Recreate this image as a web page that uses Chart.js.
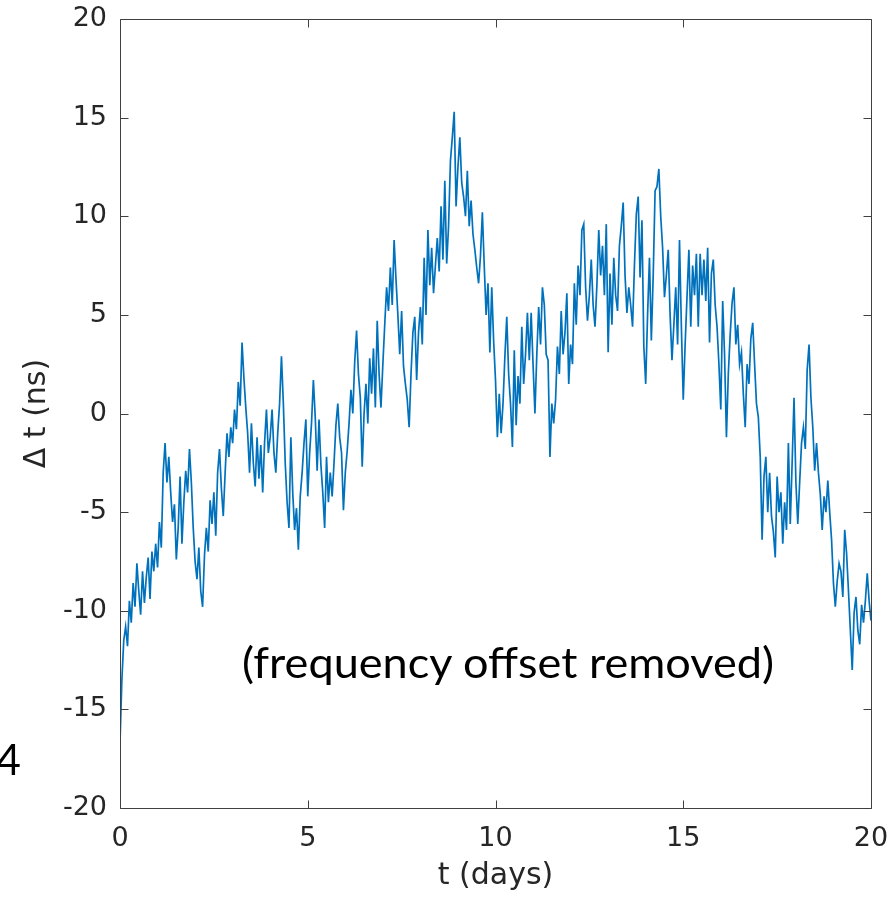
<!DOCTYPE html>
<html>
<head>
<meta charset="utf-8">
<script src="https://cdn.jsdelivr.net/npm/chart.js@4/dist/chart.umd.min.js"></script>
<style>
  html, body { margin: 0; padding: 0; background: #ffffff; }
  #wrap { position: relative; width: 891px; height: 897px; overflow: hidden; }
  #c { position: absolute; left: 0; top: 0; }
  .note { position: absolute; font-family: Lato, "Open Sans", sans-serif; color: #000; white-space: nowrap; line-height: 1; }
  #ann { left: 242px; top: 641px; font-size: 42px; transform-origin: 0 0; }
  #four { left: -4px; top: 737px; font-size: 43px; }
</style>
</head>
<body>
<div id="wrap">
  <canvas id="c" width="891" height="897"></canvas>
  <div class="note" id="ann">(frequency offset removed)</div>
  <div class="note" id="four">4</div>
</div>
<script>
// ---- data ----
const T_START = 0;        // days
const T_STEP = 0.05;      // sampling step of the readings (days)
const xTickValues = [0, 5, 10, 15, 20];
const yTickValues = [-20, -15, -10, -5, 0, 5, 10, 15, 20];
const xLabel = 't (days)';
const yLabel = '\u0394 t (ns)';
const noteText = '(frequency offset removed)';

// Δt (ns), one reading every 0.05 day from t = 0 to t = 20
const deltaT = [
  -16.7,-13.5,-11.5,-10.8,-11.8,-9.5,-10.6,-8.6,-9.8,-7.6,-9.0,-10.2,-8.0,-9.6,-8.3,-7.3,-9.4,-7.0,-8.0,-6.6,
  -7.8,-5.5,-6.8,-3.0,-1.5,-3.5,-2.2,-4.0,-5.5,-4.6,-7.4,-5.8,-3.2,-6.6,-4.5,-2.9,-4.0,-1.8,-3.5,-5.8,
  -7.5,-8.4,-6.8,-9.0,-9.8,-7.2,-5.8,-7.0,-4.4,-5.6,-4.0,-6.2,-3.0,-1.8,-3.8,-5.2,-3.0,-1.0,-2.2,-0.7,
  -1.5,0.2,-0.8,1.6,0.4,3.6,1.8,0.3,-1.0,-3.0,-0.5,-2.5,-3.7,-1.2,-3.3,-1.6,-4.0,-1.5,0.2,-2.0,
  -1.2,0.2,-2.0,-3.0,-1.0,0.5,2.9,0.5,-2.5,-4.5,-5.8,-1.2,-4.0,-5.9,-4.8,-6.9,-4.2,-3.0,-1.5,-0.3,
  -4.2,-2.0,-0.5,1.7,-0.2,-2.9,-0.3,-2.6,-4.0,-5.8,-2.2,-4.5,-3.0,-4.2,-2.5,-0.6,0.5,-1.2,-2.0,-4.9,
  -3.0,-1.9,-0.5,1.2,0.0,2.6,4.2,2.0,0.8,-2.7,0.0,1.5,-0.5,2.8,1.0,3.3,0.3,4.7,2.0,0.3,
  2.5,4.5,6.4,5.2,7.4,5.5,8.8,6.8,5.0,3.0,5.2,2.4,1.5,0.7,-0.7,2.0,4.1,4.9,1.7,4.1,
  5.4,3.5,7.9,5.0,9.3,6.5,8.4,6.1,7.5,8.9,7.2,10.5,7.8,11.8,7.6,9.5,12.8,14.0,15.3,10.5,
  12.5,14.0,11.7,11.0,10.0,12.3,9.5,10.8,9.1,8.3,7.4,6.6,8.0,10.2,7.5,5.0,6.6,3.1,6.4,3.7,
  1.7,-1.2,1.0,-1.0,0.5,2.9,4.9,2.0,0.5,-1.7,3.2,-0.6,1.9,0.5,4.4,1.5,3.0,5.1,2.7,5.1,
  2.5,0.0,3.0,5.4,3.5,6.4,5.5,3.0,2.7,-2.2,0.5,-0.5,0.7,3.4,2.0,5.2,3.0,4.1,6.1,1.5,
  3.5,2.5,6.6,4.5,7.5,6.0,9.3,9.6,6.4,4.7,6.0,7.8,5.5,4.4,6.5,9.3,7.0,8.5,6.0,9.6,
  3.1,7.1,4.5,7.9,6.0,5.2,8.5,9.5,10.7,7.0,5.1,6.4,5.5,4.4,7.5,10.1,11.0,6.9,9.8,3.4,
  1.5,5.0,7.9,3.7,7.0,11.3,11.5,12.4,10.0,8.4,5.9,7.0,8.3,5.0,2.7,4.5,6.4,3.5,8.8,4.4,
  0.7,3.5,5.9,8.3,4.4,7.5,6.0,8.1,4.4,8.1,6.0,7.8,5.7,8.4,3.6,7.1,7.8,5.5,4.4,2.5,
  0.2,5.7,3.0,-1.2,2.0,4.0,5.6,6.4,3.5,4.5,2.5,3.1,1.0,-0.7,2.5,1.5,3.8,4.6,2.5,0.5,
  -0.2,-2.2,-6.4,-3.2,-2.2,-5.0,-3.0,-5.2,-6.0,-7.3,-3.2,-5.0,-4.0,-6.6,-4.5,-5.9,-1.5,-5.6,-2.5,0.8,
  -3.5,-5.6,-3.5,-1.5,-0.7,-1.8,2.2,3.5,0.8,-0.7,-2.9,-1.5,-3.0,-4.1,-5.9,-4.2,-5.0,-3.4,-5.0,-6.4,
  -8.6,-9.8,-8.5,-7.6,-8.0,-9.3,-5.9,-7.1,-9.0,-11.0,-13.0,-10.1,-9.3,-11.0,-11.7,-9.7,-10.6,-9.5,-8.1,-9.5,
  -10.5
];

// ---- build chart ----
const points = deltaT.map((v, i) => ({ x: +(T_START + i * T_STEP).toFixed(2), y: v }));

const AXIS_COLOR = '#404040';
const TEXT_COLOR = '#262626';
const FONT = 'DejaVu Sans';

const boxPlugin = {
  id: 'matlabBox',
  afterDraw(chart) {
    const { ctx, chartArea: a, scales } = chart;
    ctx.save();
    ctx.strokeStyle = AXIS_COLOR;
    ctx.lineWidth = 1;
    const L = Math.round(a.left) + 0.5, R = Math.round(a.right) + 0.5;
    const T = Math.round(a.top) + 0.5, B = Math.round(a.bottom) + 0.5;
    ctx.beginPath();
    ctx.rect(L, T, R - L, B - T);
    const tl = 8;
    xTickValues.forEach(v => {
      const px = Math.round(scales.x.getPixelForValue(v)) + 0.5;
      ctx.moveTo(px, B); ctx.lineTo(px, B - tl);
      ctx.moveTo(px, T); ctx.lineTo(px, T + tl);
    });
    yTickValues.forEach(v => {
      const py = Math.round(scales.y.getPixelForValue(v)) + 0.5;
      ctx.moveTo(L, py); ctx.lineTo(L + tl, py);
      ctx.moveTo(R, py); ctx.lineTo(R - tl, py);
    });
    ctx.stroke();
    ctx.restore();
  }
};

new Chart(document.getElementById('c'), {
  type: 'scatter',
  data: {
    datasets: [{
      data: points,
      showLine: true,
      borderColor: '#0072BD',
      borderWidth: 1.7,
      pointRadius: 0,
      pointHoverRadius: 0,
      tension: 0,
      fill: false
    }]
  },
  options: {
    responsive: false,
    animation: false,
    events: [],
    layout: { padding: { left: 0, right: 20, top: 19, bottom: 0 } },
    plugins: { legend: { display: false }, tooltip: { enabled: false } },
    scales: {
      x: {
        type: 'linear',
        min: 0, max: 20,
        afterFit(s) { s.height = 89; s.paddingLeft = 0; s.paddingRight = 0; },
        afterBuildTicks(s) { s.ticks = xTickValues.map(v => ({ value: v })); },
        grid: { display: false, drawTicks: false },
        border: { display: false },
        ticks: { color: TEXT_COLOR, font: { family: FONT, size: 27 }, padding: 15, maxRotation: 0, autoSkip: false },
        title: { display: true, text: xLabel, color: TEXT_COLOR, font: { family: FONT, size: 30 }, padding: { top: 0, bottom: 3 } }
      },
      y: {
        type: 'linear',
        min: -20, max: 20,
        afterFit(s) { s.width = 120; s.paddingTop = 0; s.paddingBottom = 0; },
        afterBuildTicks(s) { s.ticks = yTickValues.map(v => ({ value: v })); },
        grid: { display: false, drawTicks: false },
        border: { display: false },
        ticks: { color: TEXT_COLOR, font: { family: FONT, size: 27 }, padding: 13, autoSkip: false },
        title: { display: true, text: yLabel, color: TEXT_COLOR, font: { family: FONT, size: 30 }, padding: { top: 19, bottom: 0 } }
      }
    }
  },
  plugins: [boxPlugin]
});

// fit the annotation to the width it occupies in the reference
const ann = document.getElementById('ann');
ann.textContent = noteText;
const w = ann.getBoundingClientRect().width;
if (w > 0) ann.style.transform = 'scaleX(' + (532 / w).toFixed(4) + ')';
</script>
</body>
</html>
